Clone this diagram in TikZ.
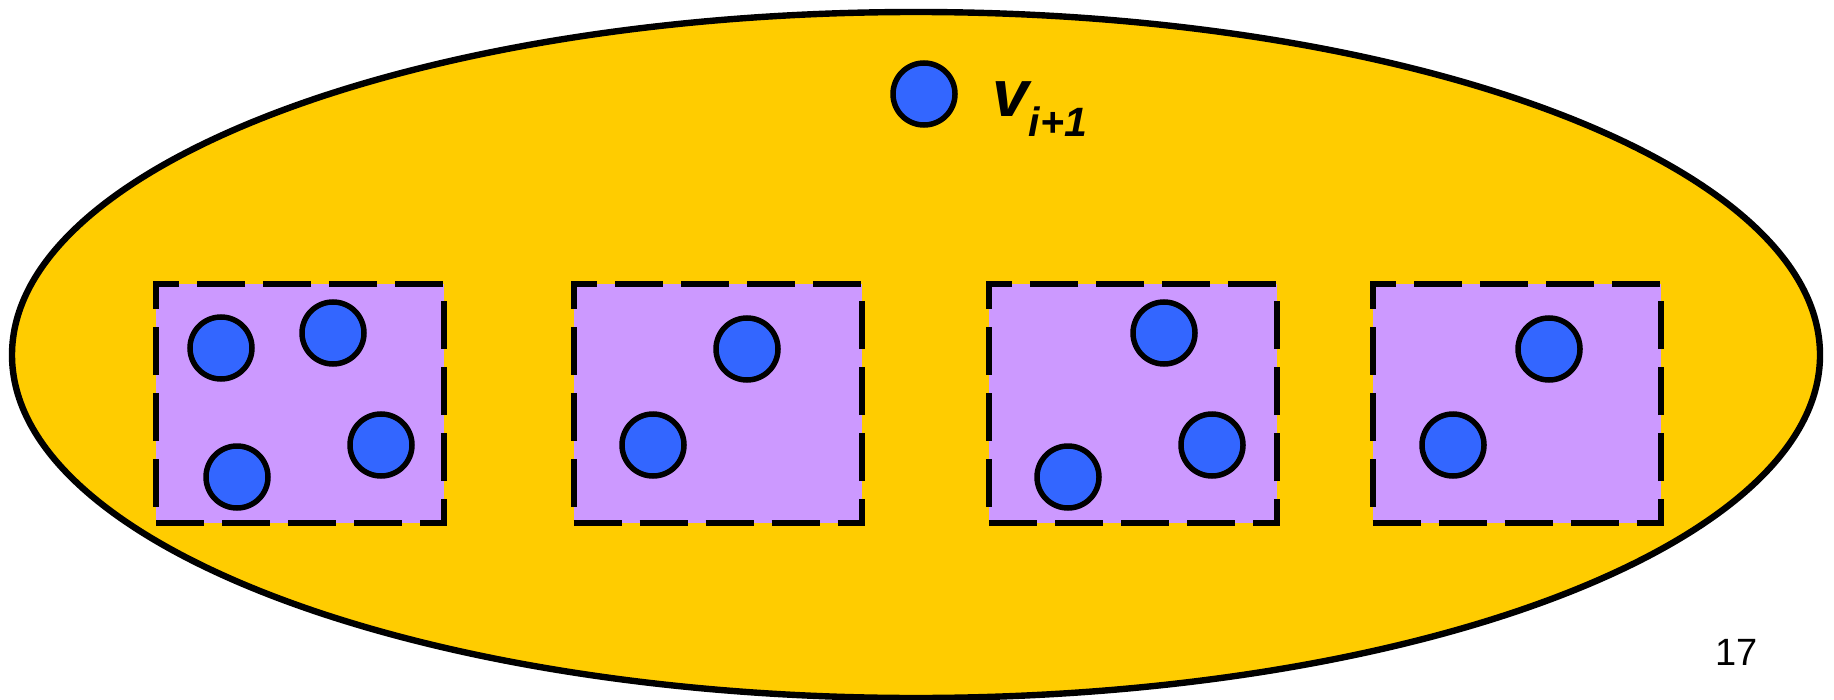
\documentclass[tikz,border=0pt]{standalone}
\usepackage{fontspec}
\setsansfont{Liberation Sans}
\usetikzlibrary{positioning}
\definecolor{setyellow}{RGB}{255,204,0}
\definecolor{partpurple}{RGB}{204,153,255}
\definecolor{vblue}{RGB}{51,102,255}
\tikzset{
  vertex/.style  = {circle, draw, line width=2.75pt, fill=vblue,
                    minimum size=31pt, inner sep=0pt},
  partbox/.style = {draw, line width=3pt, dash pattern=on 24pt off 9pt,
                    fill=partpurple, minimum width=144pt,
                    minimum height=119.5pt, inner sep=0pt},
  outer/.style   = {draw, line width=3.2pt, fill=setyellow},
}

\begin{document}
\begin{tikzpicture}[x=0.5pt, y=-0.5pt]
    \useasboundingbox (0,0) rectangle (1834,700);

    % --- the big set ---------------------------------------------------------
    \draw[outer] (916,355) ellipse [x radius=904, y radius=343];

    % --- new vertex ----------------------------------------------------------
    \node[vertex] (vnew) at (924,94) {};
    \node[anchor=base west, font=\fontsize{33}{33}\selectfont\sffamily\bfseries\itshape]
      (vlabel) at (985,117) {v\raisebox{-10pt}{\fontsize{20.5}{20.5}\selectfont i+1}};

    % --- parts ---------------------------------------------------------------
    \node[partbox] (partA) at (300,403.5) {};
    \node[partbox] (partB) at (717.5,403.5) {};
    \node[partbox] (partC) at (1133,403.5) {};
    \node[partbox] (partD) at (1516.5,403.5) {};

    % --- vertices inside the parts -----------------------------------------
    \node[vertex] (a1) at (221,348) {};
    \node[vertex] (a2) at (333,333) {};
    \node[vertex] (a3) at (381,445) {};
    \node[vertex] (a4) at (237,477) {};

    \node[vertex] (b1) at (747,349) {};
    \node[vertex] (b2) at (653,445) {};

    \node[vertex] (c1) at (1164,333) {};
    \node[vertex] (c2) at (1212,445) {};
    \node[vertex] (c3) at (1068,477) {};

    \node[vertex] (d1) at (1549,349) {};
    \node[vertex] (d2) at (1453,445) {};

    % --- page number ---------------------------------------------------------
    \node[anchor=base west, font=\fontsize{19}{19}\selectfont\sffamily]
      (pagenum) at (1708,665) {17};

\end{tikzpicture}
\end{document}
